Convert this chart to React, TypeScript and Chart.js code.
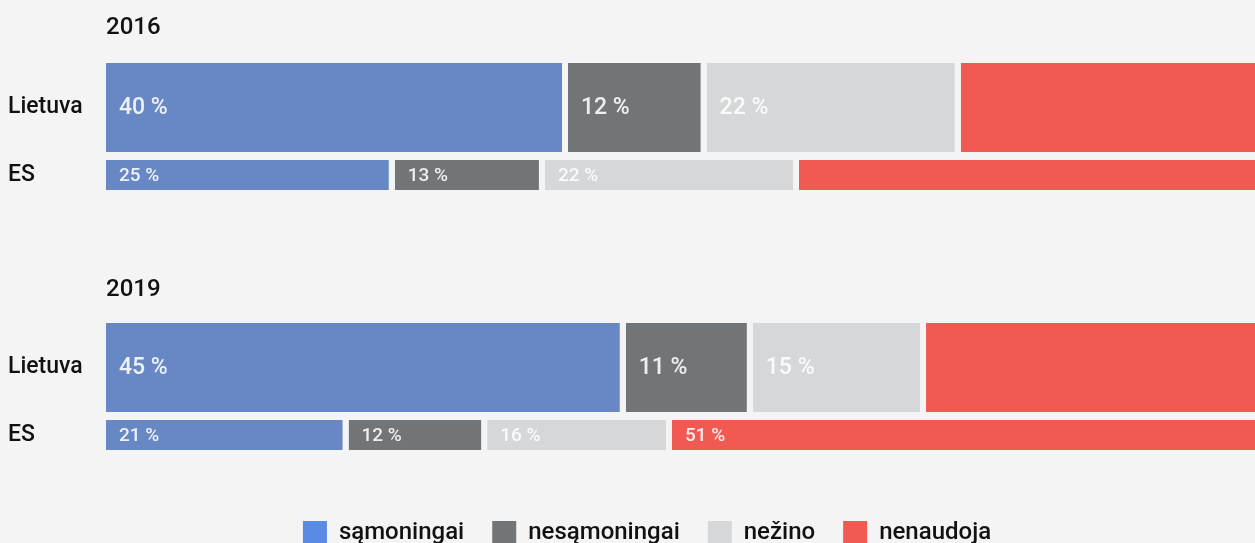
import React, { useEffect, useRef } from "react";
import { Chart, registerables } from "chart.js";

Chart.register(...registerables);

// ---- data ----
const years = ["2016", "2019"];
const rowLabels = ["Lietuva", "ES"];
const seriesNames = ["sąmoningai", "nesąmoningai", "nežino", "nenaudoja"];

const samoningai2016 = [40, 25];
const nesamoningai2016 = [12, 13];
const nezino2016 = [22, 22];
const nenaudoja2016 = [26, 40];

const samoningai2019 = [45, 21];
const nesamoningai2019 = [11, 12];
const nezino2019 = [15, 16];
const nenaudoja2019 = [29, 51];

// which value labels are printed on the red (nenaudoja) segments
const nenaudojaLabel2016 = [false, false];
const nenaudojaLabel2019 = [false, true];

// ---- styles ----
const BG = "#f4f4f4";
const barColors = ["#6788c5", "#727578", "#d6d7d9", "#f15a53"];
const legendColors = ["#5a8ae4", "#727578", "#d6d7d9", "#f15a53"];
const FONT = "Roboto";
const LEGEND_SHIFT = 12.5;

const valueLabelPlugin = {
  id: "valueLabels",
  afterDatasetsDraw(chart: any) {
    const ctx = chart.ctx;
    chart.data.datasets.forEach((ds: any, di: number) => {
      const meta = chart.getDatasetMeta(di);
      meta.data.forEach((el: any, idx: number) => {
        const v = ds.data[idx];
        if (v == null) return;
        if (ds.showLabel && !ds.showLabel[idx]) return;
        const { x, y, base } = el.getProps(["x", "y", "base"], true);
        ctx.save();
        ctx.font = `500 ${ds.labelSize}px ${FONT}`;
        ctx.fillStyle = "rgba(255,255,255,0.88)";
        ctx.textAlign = "left";
        ctx.textBaseline = "middle";
        ctx.fillText(`${v} %`, Math.min(x, base) + 13, y + 1);
        ctx.restore();
      });
    });
  },
};

// nudges the centred legend a little to the right, as in the reference
const legendShiftPlugin = {
  id: "legendShift",
  afterLayout(chart: any) {
    const lg = chart.legend;
    if (lg && lg.options.display) {
      lg.left += LEGEND_SHIFT;
      lg.right += LEGEND_SHIFT;
    }
  },
};

function buildDatasets(series: number[][], redLabels: boolean[]) {
  const out: any[] = [];
  series.forEach((vals, k) => {
    const common = {
      label: seriesNames[k],
      backgroundColor: barColors[k],
      borderColor: BG,
      borderWidth: { top: 0, bottom: 0, left: 0, right: 6 },
      borderSkipped: "start",
      inflateAmount: 0,
      clip: false,
    };
    out.push({
      ...common,
      data: [vals[0], null],
      barThickness: 89,
      labelSize: 23,
      showLabel: k === 3 ? [redLabels[0], false] : undefined,
    });
    out.push({
      ...common,
      data: [null, vals[1]],
      barThickness: 30,
      labelSize: 19,
      showLabel: k === 3 ? [false, redLabels[1]] : undefined,
    });
  });
  return out;
}

function makeConfig(
  year: string,
  series: number[][],
  redLabels: boolean[],
  withLegend: boolean,
  titlePad: { top: number; bottom: number }
): any {
  return {
    type: "bar",
    data: { labels: rowLabels, datasets: buildDatasets(series, redLabels) },
    plugins: [valueLabelPlugin, legendShiftPlugin],
    options: {
      indexAxis: "y",
      animation: false,
      responsive: true,
      maintainAspectRatio: false,
      layout: { padding: { left: 8, right: 33, top: 0, bottom: withLegend ? 5 : 51.25 } },
      scales: {
        x: {
          stacked: true,
          min: 0,
          max: 100,
          display: withLegend,
          grid: { display: false },
          border: { display: false },
          ticks: { display: false },
          afterFit: (s: any) => {
            s.height = withLegend ? 24.25 : 0;
          },
        },
        y: {
          stacked: true,
          grid: { display: false },
          border: { display: false },
          ticks: {
            crossAlign: "far",
            padding: 0,
            color: "#111",
            font: { family: FONT, size: 23, weight: "500" },
          },
          afterFit: (s: any) => {
            s.width = 98;
          },
        },
      },
      plugins: {
        tooltip: { enabled: false },
        title: {
          display: true,
          text: year,
          align: "start",
          fullSize: false,
          color: "#111",
          font: { family: FONT, size: 24, weight: "500" },
          padding: titlePad,
        },
        legend: {
          display: withLegend,
          position: "bottom",
          onClick: () => {},
          labels: {
            boxWidth: 24,
            boxHeight: 24,
            padding: 28,
            color: "#111",
            font: { family: FONT, size: 24, weight: "500" },
            generateLabels: () =>
              seriesNames.map((name, i) => ({
                text: name,
                fillStyle: legendColors[i],
                strokeStyle: legendColors[i],
                lineWidth: 0,
                hidden: false,
                datasetIndex: i * 2,
                fontColor: "#111",
              })),
          },
        },
      },
    },
  };
}

export default function App() {
  const refA = useRef<HTMLCanvasElement | null>(null);
  const refB = useRef<HTMLCanvasElement | null>(null);

  useEffect(() => {
    Chart.defaults.font.family = FONT;
    const a = new Chart(
      refA.current as HTMLCanvasElement,
      makeConfig(
        years[0],
        [samoningai2016, nesamoningai2016, nezino2016, nenaudoja2016],
        nenaudojaLabel2016,
        false,
        { top: 13.5, bottom: 31.5 }
      )
    );
    const b = new Chart(
      refB.current as HTMLCanvasElement,
      makeConfig(
        years[1],
        [samoningai2019, nesamoningai2019, nezino2019, nenaudoja2019],
        nenaudojaLabel2019,
        true,
        { top: 16, bottom: 29 }
      )
    );
    return () => {
      a.destroy();
      b.destroy();
    };
  }, []);

  return (
    <div
      style={{
        position: "fixed",
        left: 0,
        top: 0,
        width: "100vw",
        height: "100vh",
        overflow: "hidden",
        background: BG,
      }}
    >
      <div style={{ position: "absolute", left: 0, top: 0, width: 1294, height: 260 }}>
        <canvas ref={refA} />
      </div>
      <div style={{ position: "absolute", left: 0, top: 260, width: 1294, height: 300 }}>
        <canvas ref={refB} />
      </div>
    </div>
  );
}
